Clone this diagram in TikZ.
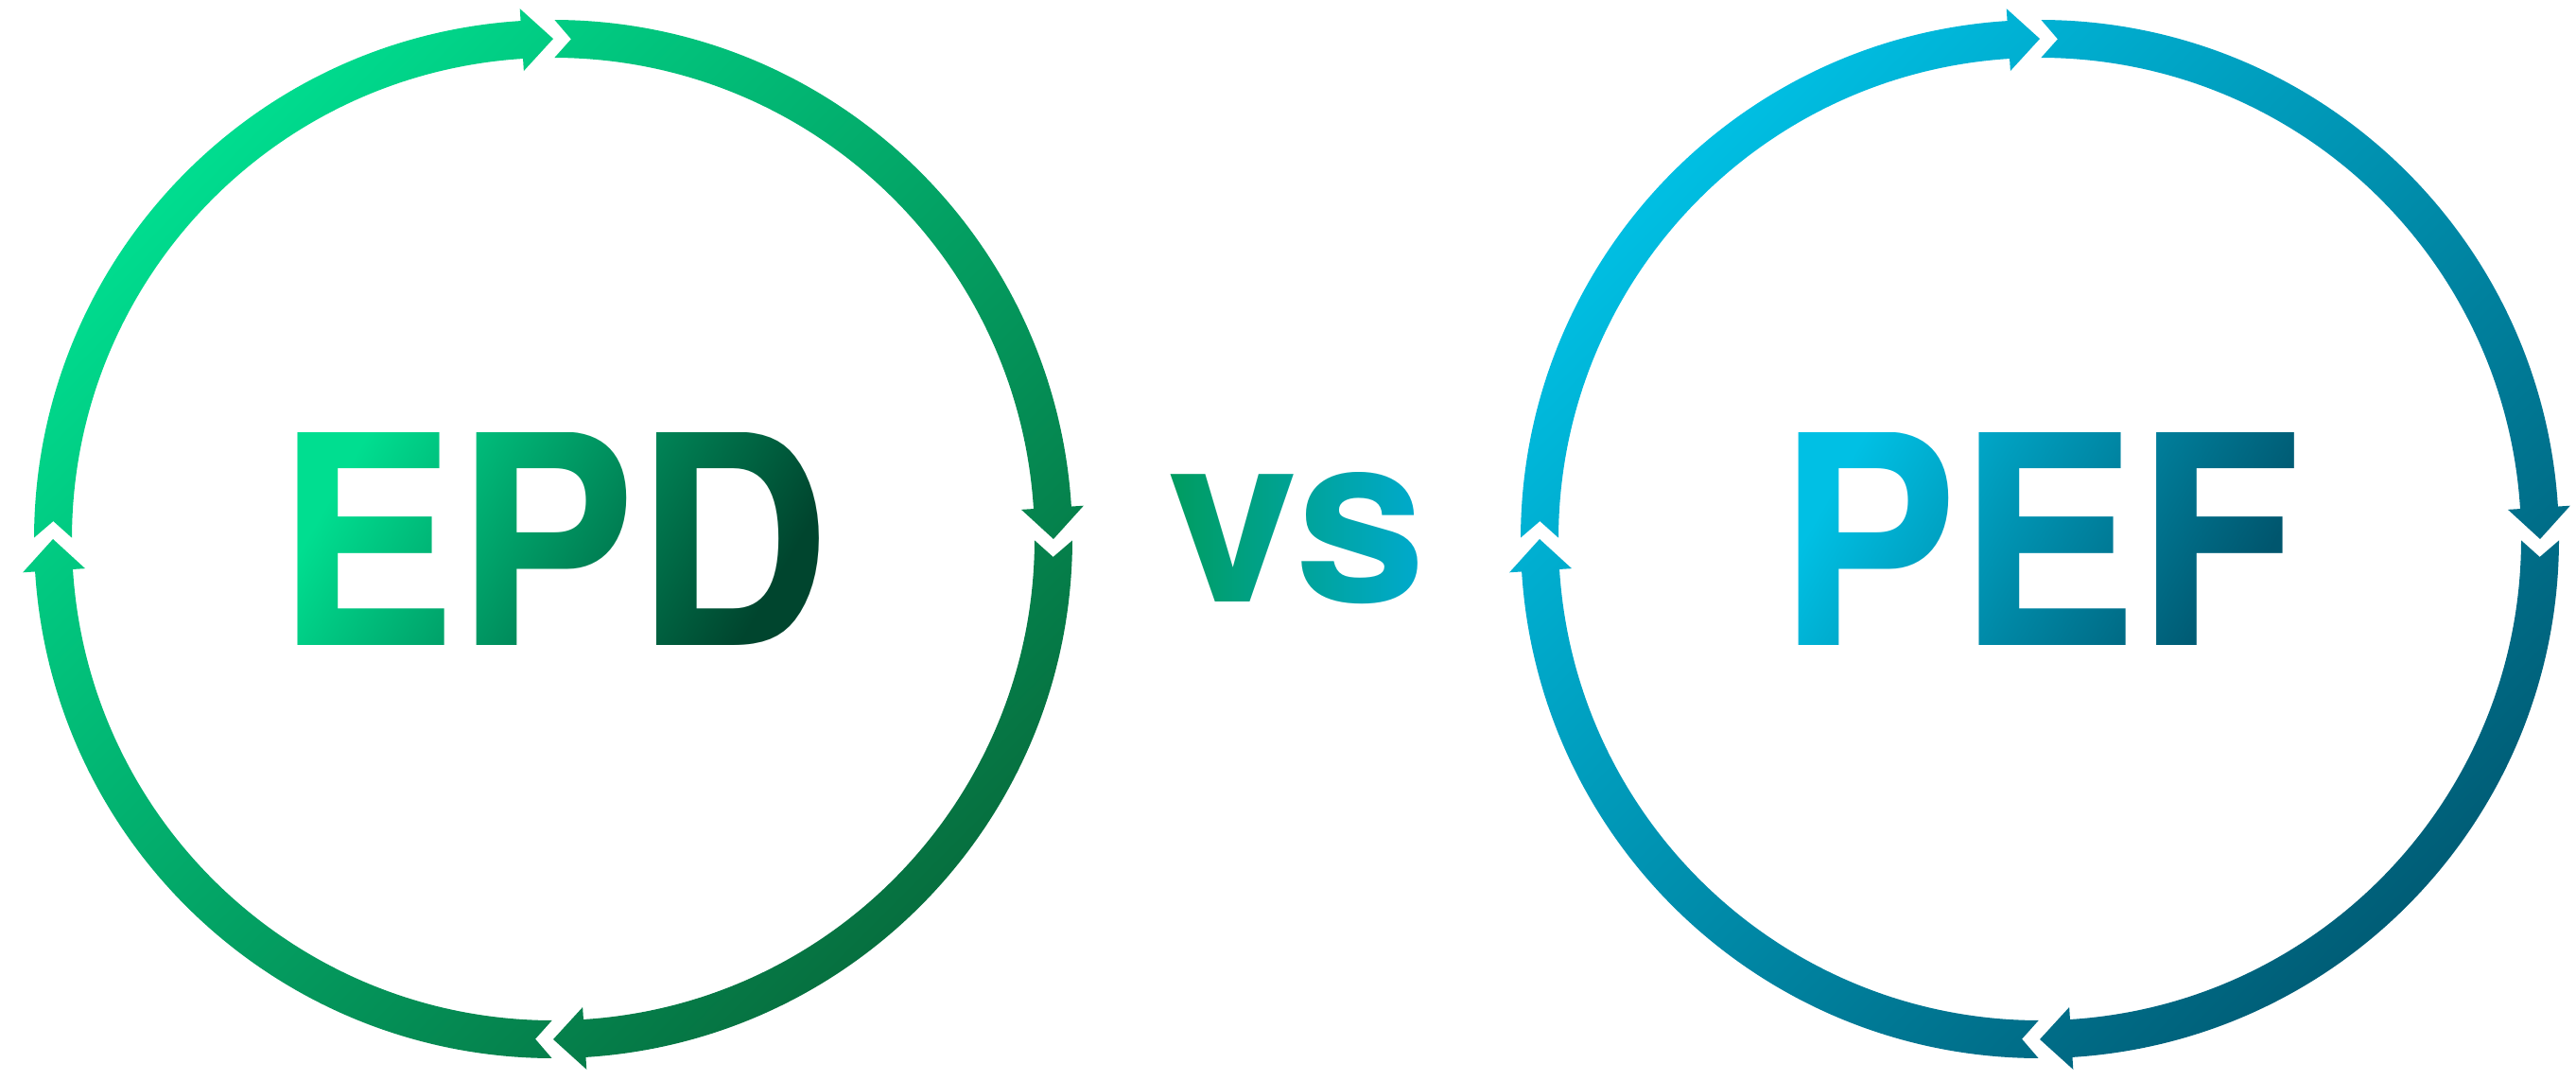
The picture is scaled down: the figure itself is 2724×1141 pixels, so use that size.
\documentclass[tikz,border=0pt]{standalone}
\usepackage{fontspec}
\usepackage{graphicx}
\usepackage{tikz}
\usetikzlibrary{fadings,positioning}
\newfontfamily\heros{TeX Gyre Heros}
\definecolor{epd_light}{HTML}{00DE90}
\definecolor{epd_dark}{HTML}{066E3E}
\definecolor{epd_deep}{HTML}{00452E}
\definecolor{pef_light}{HTML}{00C0E4}
\definecolor{pef_dark}{HTML}{005C75}
\definecolor{pef_deep}{HTML}{00566E}
\definecolor{vs_green}{HTML}{009C5E}
\definecolor{vs_blue}{HTML}{00AAD0}
\tikzset{
acronym/.style={inner sep=0, font=\heros\bfseries\fontsize{88}{88}\selectfont},
versus/.style={inner sep=0, font=\heros\bfseries\fontsize{71}{71}\selectfont},
cycle_arrows/.style={insert path={foreach \a in {90,0,-90,-180}{
  (\a+89.85:549) arc[start angle=\a+89.85, end angle=\a+3.6, radius=549]
  -- (\a+3.6:562) -- (\a:529) -- (\a+3.6:496) -- (\a+3.6:509)
  arc[start angle=\a+3.6, end angle=\a+89.85, radius=509]
  -- (\a+87.95:529) -- cycle}}}
}
% letter masks for the gradients
\begin{tikzfadingfrompicture}[name=epd_fade]
  \node[acronym, text=transparent!0] {\scalebox{0.92}[1]{EPD}};
\end{tikzfadingfrompicture}
\begin{tikzfadingfrompicture}[name=pef_fade]
  \node[acronym, text=transparent!0] {\scalebox{0.92}[1]{PEF}};
\end{tikzfadingfrompicture}
\begin{tikzfadingfrompicture}[name=vs_fade]
  \node[versus, text=transparent!0] {vs};
\end{tikzfadingfrompicture}

\begin{document}
\begin{tikzpicture}[x=0.01cm, y=0.01cm]
    \useasboundingbox (0,0) rectangle (2724,1141);
    % left cycle
    \begin{scope}[shift={(585,571)}]
        \clip[cycle_arrows];
        \shade[left color=epd_light, right color=epd_dark, shading angle=45] (-565,-565) rectangle (565,565);
    \end{scope}
    % right cycle
    \begin{scope}[shift={(2157,571)}]
        \clip[cycle_arrows];
        \shade[left color=pef_light, right color=pef_dark, shading angle=45] (-565,-565) rectangle (565,565);
    \end{scope}
    % labels
    \node[acronym] (epd) at (585,571) {\phantom{\scalebox{0.92}[1]{EPD}}};
    \node[acronym] (pef) at (2157,571) {\phantom{\scalebox{0.92}[1]{PEF}}};
    \node[versus] (vs) at (1371,572) {\phantom{vs}};
    \shade[path fading=epd_fade, fit fading=false, fading transform={shift={(epd.center)}}, left color=epd_light, right color=epd_deep, shading angle=60] (epd.south west) rectangle (epd.north east);
    \shade[path fading=pef_fade, fit fading=false, fading transform={shift={(pef.center)}}, left color=pef_light, right color=pef_deep, shading angle=60] (pef.south west) rectangle (pef.north east);
    \shade[path fading=vs_fade, fit fading=false, fading transform={shift={(vs.center)}}, left color=vs_green, right color=vs_blue] (vs.south west) rectangle (vs.north east);
\end{tikzpicture}
\end{document}
